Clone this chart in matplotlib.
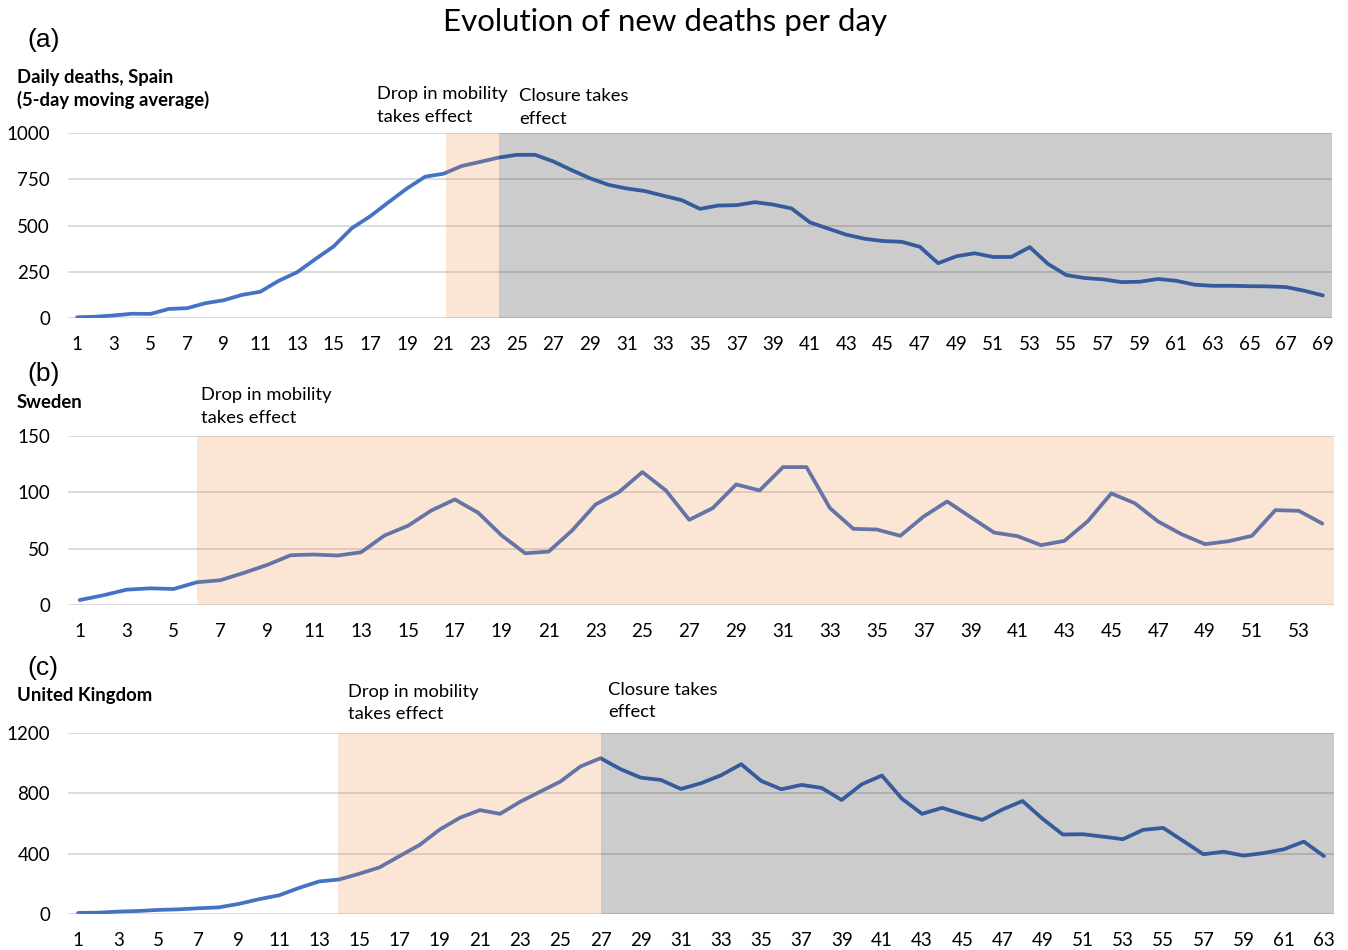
import matplotlib
matplotlib.use("Agg")
import matplotlib.pyplot as plt

plt.rcParams['font.family'] = ['Lato', 'DejaVu Sans']

# daily deaths, 5-day moving average
spain = [4, 7, 14, 23, 22, 49, 53, 80, 96, 125, 142, 201, 247, 318, 387, 486, 550, 626, 700, 764,
         780, 822, 844, 867, 882, 882, 846, 799, 755, 720, 700, 686, 661, 637, 590, 608, 610, 626, 613, 592,
         517, 483, 450, 428, 416, 412, 385, 296, 334, 350, 330, 330, 383, 292, 232, 216, 209, 194, 196, 211,
         201, 180, 174, 174, 172, 171, 167, 147, 122]
sweden = [4.4, 8.6, 13.6, 14.8, 14.2, 20.2, 22, 28.5, 35.6, 44.2, 44.8, 43.9, 46.8, 61.7, 70.3, 83.9, 93.7,
          81.8, 61.7, 45.9, 47.4, 66.1, 89.2, 100.2, 118, 101.7, 75.6, 86, 107, 101.7, 122.4, 122.4, 86,
          67.6, 67, 61.4, 78.6, 91.9, 78, 64.3, 61.1, 53.1, 56.9, 74.4, 99, 90.4, 74.1, 62.8, 54, 56.6,
          61.4, 84.2, 83.6, 72.3]
uk = [7, 9, 16, 20, 27, 31, 38, 44, 67, 98, 124, 173, 216, 229, 267, 309, 384, 458, 560, 638,
      689, 664, 744, 811, 878, 978, 1033, 960, 904, 889, 829, 867, 920, 993, 882, 827, 856, 836, 756, 860,
      918, 764, 664, 704, 662, 624, 693, 749, 631, 527, 529, 513, 496, 558, 571, 484, 396, 413, 387, 404,
      429, 480, 384]

# periods: (start day, end day)
spain_mobility = (21.15, 24.05)
spain_closure = (24.05, 69.5)
sweden_mobility = (6.0, 54.5)
uk_mobility = (13.95, 27.0)
uk_closure = (27.0, 63.5)

line_col = '#4472C4'
orange = '#ED7D31'
W, H = 1348, 950

fig = plt.figure(figsize=(W / 100, H / 100), dpi=100)


def make_ax(left, right, top, bottom):
    return fig.add_axes([left / W, 1 - bottom / H, (right - left) / W, (bottom - top) / H])


def style(ax, data, ymax, yticks):
    days = list(range(1, len(data) + 1))
    ax.plot(days, data, color=line_col, lw=2.7, zorder=2, solid_capstyle='round')
    ax.set_xlim(0.5, len(data) + 0.5)
    ax.set_ylim(0, ymax)
    ax.set_xticks(days[::2])
    ax.set_yticks(yticks)
    ax.tick_params(length=0, labelsize=13.5, colors='#000000')
    ax.tick_params(axis='x', pad=13)
    ax.tick_params(axis='y', pad=13)
    for s in ax.spines.values():
        s.set_visible(False)
    ax.grid(axis='y', color='#D9D9D9', lw=1.3, zorder=1)
    ax.set_axisbelow(True)


def ftext(x, y, s, **kw):
    fig.text(x / W, 1 - y / H, s, va='center', **kw)


# (a) Spain
ax1 = make_ax(68, 1332, 133, 318)
style(ax1, spain, 1000, [0, 250, 500, 750, 1000])
ax1.axvspan(*spain_mobility, color=orange, alpha=0.2, lw=0, zorder=3)
ax1.axvspan(*spain_closure, color='black', alpha=0.2, lw=0, zorder=3)

# (b) Sweden
ax2 = make_ax(68, 1334, 436, 605)
style(ax2, sweden, 150, [0, 50, 100, 150])
ax2.axvspan(*sweden_mobility, color=orange, alpha=0.2, lw=0, zorder=3)

# (c) United Kingdom
ax3 = make_ax(68, 1334, 733, 914)
style(ax3, uk, 1200, [0, 400, 800, 1200])
ax3.axvspan(*uk_mobility, color=orange, alpha=0.2, lw=0, zorder=3)
ax3.axvspan(*uk_closure, color='black', alpha=0.2, lw=0, zorder=3)

# texts
ftext(665, 22, 'Evolution of new deaths per day', ha='center', fontsize=22.5)

lab = dict(fontsize=19, family='Liberation Sans')
bold = dict(fontsize=13.3, fontweight='bold')
note = dict(fontsize=13.2)

ftext(27, 40, '(a)', **lab)
ftext(17, 77, 'Daily deaths, Spain', **bold)
ftext(17, 100, '(5-day moving average)', **bold)
ftext(377, 94, 'Drop in mobility', **note)
ftext(377, 117, 'takes effect', **note)
ftext(519, 96, 'Closure takes', **note)
ftext(519, 119, 'effect', **note)

ftext(27, 374, '(b)', **lab)
ftext(17, 403, 'Sweden', **bold)
ftext(201, 395, 'Drop in mobility', **note)
ftext(201, 418, 'takes effect', **note)

ftext(27, 668, '(c)', **lab)
ftext(17, 696, 'United Kingdom', **bold)
ftext(348, 692, 'Drop in mobility', **note)
ftext(348, 714, 'takes effect', **note)
ftext(608, 690, 'Closure takes', **note)
ftext(608, 712, 'effect', **note)

fig.savefig('out.png', dpi=100)
